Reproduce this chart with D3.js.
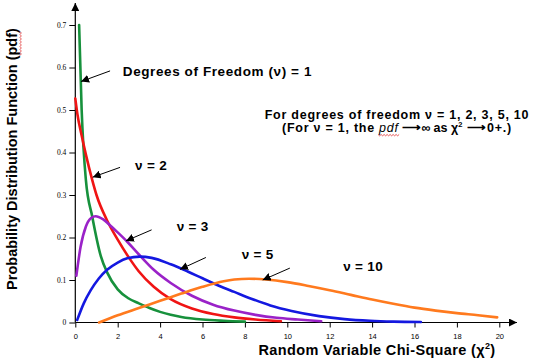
<!DOCTYPE html>
<html>
<head>
<meta charset="utf-8">
<script src="https://cdn.jsdelivr.net/npm/d3@7"></script>
<style>
  html, body { margin: 0; padding: 0; background: #fff; }
  svg { display: block; font-family: Arial, "Liberation Sans", sans-serif; }
</style>
</head>
<body>
<svg id="chart" width="543" height="362"></svg>
<script>
// values (chi-square pdfs)
const xTicks = [0, 2, 4, 6, 8, 10, 12, 14, 16, 18, 20]
const yTicks = [0, 0.1, 0.2, 0.3, 0.4, 0.5, 0.6, 0.7]

const dof1X = [0.18, 0.3, 0.5, 0.8, 1.2, 1.5, 2.0, 2.5, 3.0, 3.5, 4.0, 4.5, 5.0, 6.0, 7.0, 8.0]
const dof1Y = [0.70, 0.50, 0.335, 0.249, 0.157, 0.118, 0.078, 0.057, 0.045, 0.034, 0.025, 0.018, 0.013, 0.007, 0.004, 0.002]

const dof2X = [0, 0.1, 0.3, 0.5, 0.8, 1.0, 1.5, 2.0, 2.5, 3.0, 3.7, 4.5, 5.5, 6.5, 7.5, 8.5, 9.7]
const dof2Y = [0.527, 0.49, 0.44, 0.395, 0.335, 0.30, 0.24, 0.195, 0.155, 0.12, 0.084, 0.055, 0.033, 0.02, 0.012, 0.007, 0.003]

const dof3X = [0.05, 0.25, 0.5, 0.75, 0.96, 1.3, 1.7, 2.0, 2.45, 3.0, 3.7, 4.5, 5.5, 6.5, 7.5, 8.5, 9.5, 10.5, 11.6]
const dof3Y = [0.11, 0.178, 0.226, 0.246, 0.25, 0.243, 0.226, 0.212, 0.19, 0.16, 0.124, 0.093, 0.063, 0.042, 0.028, 0.018, 0.011, 0.007, 0.003]

const dof5X = [0.09, 0.4, 0.73, 1.1, 1.5, 2.0, 2.45, 3.05, 3.6, 4.5, 5.3, 6.0, 6.8, 7.5, 8.3, 9.2, 10.2, 11.5, 12.7, 13.9, 15.0, 16.3]
const dof5Y = [0.006, 0.045, 0.076, 0.103, 0.124, 0.141, 0.151, 0.155, 0.152, 0.137, 0.12, 0.104, 0.086, 0.072, 0.056, 0.04, 0.027, 0.015, 0.008, 0.004, 0.002, 0.001]

const dof10X = [1.12, 2.0, 3.0, 4.0, 5.0, 6.0, 7.0, 7.5, 8.2, 9.0, 10.0, 11.0, 12.0, 13.0, 14.0, 15.0, 16.0, 17.0, 18.0, 19.0, 19.9]
const dof10Y = [0, 0.017, 0.034, 0.051, 0.068, 0.084, 0.097, 0.101, 0.103, 0.101, 0.095, 0.086, 0.076, 0.065, 0.054, 0.044, 0.035, 0.028, 0.022, 0.017, 0.012]

const seriesNames = ["dof1", "dof2", "dof3", "dof5", "dof10"]
const seriesColors = ["#17913c", "#f01414", "#9a22c8", "#1418e0", "#ff7a1e"]

// annotation arrows: [startX, startY, tipX, tipY] in data units
const arrowData = [
  [1.64, 0.592, 0.27, 0.567],
  [2.11, 0.365, 0.82, 0.342],
  [3.6, 0.218, 2.39, 0.192],
  [6.16, 0.153, 4.94, 0.125],
  [10.12, 0.128, 8.84, 0.100]
]
const labelText = ["Degrees of Freedom (\u03bd) = 1", "\u03bd = 2", "\u03bd = 3", "\u03bd = 5", "\u03bd = 10"]
const labelX = [2.24, 2.82, 4.78, 7.85, 12.64]
const labelY = [0.58, 0.36, 0.216, 0.149, 0.122]

const svg = d3.select("#chart")

const x = d3.scaleLinear().domain([0, 20]).range([75.3, 499.3])
const y = d3.scaleLinear().domain([0, 0.7]).range([322.5, 25])

const defs = svg.append("defs")
defs.append("marker")
  .attr("id", "head")
  .attr("viewBox", "0 0 10 10")
  .attr("refX", 10).attr("refY", 5)
  .attr("markerWidth", 8).attr("markerHeight", 8)
  .attr("markerUnits", "userSpaceOnUse")
  .attr("orient", "auto")
  .append("path")
  .attr("d", "M0,0 L10,5 L0,10 Z")
  .attr("fill", "#000")

// red squiggle like the spell-check mark under "pdf"
function squiggle(g, x0, x1, yy) {
  let d = `M${x0},${yy}`
  for (let px = x0, k = 0; px < x1; px += 1.5, k++) {
    d += ` L${px + 1.5},${yy + (k % 2 ? 0 : 1.3)}`
  }
  g.append("path").attr("d", d).attr("fill", "none")
    .attr("stroke", "#e03030").attr("stroke-width", 0.8)
}

// axes
const xAxis = svg.append("g")
  .attr("transform", `translate(0,${y(0)})`)
  .call(d3.axisBottom(x).tickValues(xTicks).tickSize(5).tickSizeOuter(0).tickFormat(d3.format("d")))
xAxis.select(".domain").remove()
xAxis.selectAll("line").attr("stroke", "#000")
xAxis.selectAll("text").attr("font-size", 7.5).attr("dy", "1.15em").attr("font-family", "Arial, 'Liberation Sans', sans-serif")

const yAxis = svg.append("g")
  .attr("transform", `translate(${x(0)},0)`)
  .call(d3.axisLeft(y).tickValues(yTicks).tickSize(6).tickSizeOuter(0).tickFormat(d => d === 0 ? "0" : d3.format(".1f")(d)))
yAxis.select(".domain").remove()
yAxis.selectAll("line").attr("stroke", "#000")
yAxis.selectAll("text").attr("font-size", 7.5).attr("x", -9).attr("font-family", "'Liberation Serif', 'Times New Roman', serif")

svg.append("line")
  .attr("x1", x(0)).attr("x2", 517).attr("y1", y(0)).attr("y2", y(0))
  .attr("stroke", "#000").attr("stroke-width", 1.2)
  .attr("marker-end", "url(#head)")
svg.append("line")
  .attr("x1", x(0)).attr("x2", x(0)).attr("y1", y(0)).attr("y2", 3)
  .attr("stroke", "#000").attr("stroke-width", 1.2)
  .attr("marker-end", "url(#head)")

// curves
const allX = [dof1X, dof2X, dof3X, dof5X, dof10X]
const allY = [dof1Y, dof2Y, dof3Y, dof5Y, dof10Y]
const line = d3.line()
  .x(d => x(d[0]))
  .y(d => y(d[1]))
  .curve(d3.curveMonotoneX)

seriesNames.forEach((name, i) => {
  const pts = allX[i].map((v, j) => [v, allY[i][j]])
  svg.append("path")
    .attr("class", name)
    .attr("d", line(pts))
    .attr("fill", "none")
    .attr("stroke", seriesColors[i])
    .attr("stroke-width", 2.6)
    .attr("stroke-linecap", "round")
})

// arrows + labels
svg.selectAll(".arrow")
  .data(arrowData)
  .join("line")
  .attr("class", "arrow")
  .attr("x1", d => x(d[0])).attr("y1", d => y(d[1]))
  .attr("x2", d => x(d[2])).attr("y2", d => y(d[3]))
  .attr("stroke", "#000").attr("stroke-width", 1)
  .attr("marker-end", "url(#head)")

svg.selectAll(".lbl")
  .data(labelText)
  .join("text")
  .attr("class", "lbl")
  .attr("x", (d, i) => x(labelX[i]))
  .attr("y", (d, i) => y(labelY[i]))
  .attr("font-size", 13.5)
  .attr("font-weight", "bold")
  .attr("letter-spacing", (d, i) => i === 0 ? 0.6 : 0.3)
  .text(d => d)

// side note, two separate lines
const noteStyle = s => s
  .attr("font-size", 12.5)
  .attr("font-weight", "bold")
  .attr("letter-spacing", 0.75)
  .attr("text-anchor", "middle")
  .attr("x", 397)

svg.append("text").call(noteStyle).attr("y", 118.5)
  .text("For degrees of freedom \u03bd = 1, 2, 3, 5, 10")

const l2 = svg.append("text").call(noteStyle).attr("y", 132)
l2.append("tspan").text("(For \u03bd = 1, the ")
const pdfSpan = l2.append("tspan").attr("font-style", "italic").attr("font-weight", "normal").text("pdf")
l2.append("tspan").attr("letter-spacing", 0).text(" \u27f6\u221e as \u03c7")
l2.append("tspan").attr("font-size", 7.5).attr("dy", -5).text("2")
l2.append("tspan").attr("dy", 5).text(" \u27f60+.)")
const pb = pdfSpan.node().getBBox()
squiggle(svg, pb.x, pb.x + pb.width - 1, 134.5)

// axis titles
const xt = svg.append("text")
  .attr("x", 377).attr("y", 355)
  .attr("text-anchor", "middle")
  .attr("font-size", 14.5)
  .attr("font-weight", "bold")
  .attr("letter-spacing", 0.35)
xt.append("tspan").text("Random Variable Chi-Square (\u03c7")
xt.append("tspan").attr("font-size", 9).attr("dy", -6).text("2")
xt.append("tspan").attr("dy", 6).text(")")

const yg = svg.append("g").attr("transform", "translate(17,159) rotate(-90)")
const yt = yg.append("text")
  .attr("text-anchor", "middle")
  .attr("font-size", 14.5)
  .attr("font-weight", "bold")
yt.append("tspan").text("Probability Distribution Function (")
const ypdf = yt.append("tspan").text("pdf")
yt.append("tspan").text(")")
const yb = ypdf.node().getBBox()
squiggle(yg, yb.x, yb.x + yb.width, 3)
</script>
</body>
</html>
